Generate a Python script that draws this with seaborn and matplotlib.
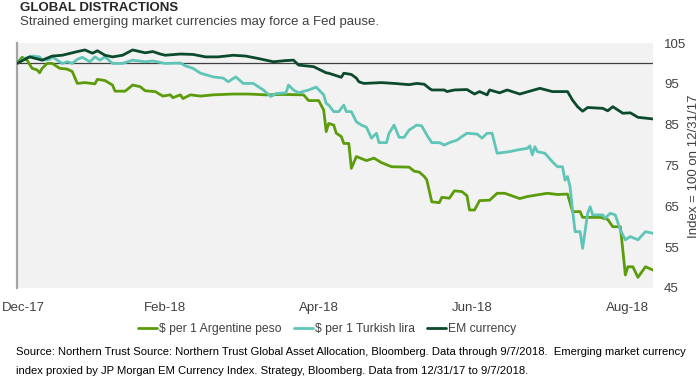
import matplotlib
matplotlib.use('Agg')
from matplotlib import pyplot as plt
import matplotlib.dates as mdates
import matplotlib.transforms as mtransforms
import numpy as np
import pandas as pd
import seaborn as sns

# days after 12/31/17, index = 100 on 12/31/17
peso_day = [0, 2, 4, 6, 8, 9, 10, 12, 14, 17, 20, 22, 24, 27, 31, 32, 35, 38, 39, 43,
            46, 49, 51, 55, 58, 61, 62, 65, 66, 69, 73, 78, 86, 92, 99, 106, 114, 116, 120, 122,
            123, 124, 126, 127, 129, 130, 132, 133, 135, 139, 142, 145, 149, 156, 158, 160, 162, 163, 165, 168,
            169, 172, 174, 177, 179, 180, 182, 184, 188, 191, 194, 200, 203, 211, 215, 219, 221, 224, 225, 232,
            235, 237, 240, 241, 242, 243, 245, 247, 250, 253]
peso_val = [100, 101.5, 100.8, 98.8, 98.4, 97.7, 98.8, 100, 100, 98.8, 98.6, 98, 95.1, 95.3, 95, 96.1, 95.8, 94.7, 93.2, 93.2,
            94.7, 94.3, 93.3, 93.1, 92, 92.3, 91.6, 92.3, 91.4, 92.3, 92, 92.3, 92.5, 92.5, 92.3, 92.4, 92.3, 90.9, 90.9, 88.6,
            83.3, 85.3, 84.9, 82.9, 82.1, 80.4, 80.4, 74.3, 77.2, 76.2, 76.8, 75.7, 74.7, 74.6, 73.6, 73.4, 72.3, 71.5, 66.1, 65.9,
            67.2, 67, 68.8, 68.6, 67.6, 64.1, 64.1, 66.4, 66.5, 68.2, 68.2, 66.9, 67.4, 68.2, 67.9, 68, 63.7, 63.7, 62.3, 62.3,
            61.8, 60, 60, 54.3, 48.2, 50.2, 50.2, 47.6, 50.2, 49.4]

lira_day = [0, 3, 6, 9, 10, 13, 14, 16, 18, 20, 22, 24, 26, 29, 31, 33, 35, 38, 42, 46,
            51, 54, 59, 65, 67, 70, 73, 78, 82, 84, 87, 90, 94, 98, 101, 103, 107, 108, 110, 112,
            116, 119, 122, 123, 124, 126, 128, 130, 131, 133, 135, 137, 139, 141, 143, 144, 147, 148, 150, 152,
            154, 156, 159, 161, 163, 165, 168, 170, 172, 175, 177, 179, 183, 185, 187, 189, 190, 191, 196, 199,
            203, 204, 205, 206, 207, 210, 213, 215, 217, 218, 219, 220, 221, 222, 224, 225, 227, 228, 229, 233,
            234, 236, 238, 240, 242, 244, 247, 250, 253]
lira_val = [100, 101.2, 101.8, 101.6, 100.8, 101, 101.6, 100.8, 100, 100.4, 100, 101, 101.5, 100.4, 101.6, 100.8, 101.6, 100, 100, 100.8,
            100.4, 100.6, 100, 100.1, 99.4, 98.8, 97.6, 96.7, 96.4, 95.5, 96.7, 95.1, 95.1, 93.5, 91.9, 92.6, 92.8, 94.7, 93.5, 92.8,
            93.5, 94.2, 92.3, 90.2, 89.8, 88.2, 88.2, 89.8, 88.2, 88.2, 85.7, 84.9, 84.4, 81.7, 82.9, 80.6, 80.6, 82.9, 84.9, 81.9,
            81.9, 83.7, 84.9, 84.7, 82.5, 80.6, 80.6, 80, 80.6, 81.2, 82.1, 82.9, 82.7, 81.7, 82.9, 82.9, 80.4, 78, 78.4, 78.8,
            79.2, 79.8, 77.6, 79.6, 78.4, 78, 75.9, 74.7, 74.7, 71.4, 72.3, 69.8, 64.1, 58.8, 58.8, 54.7, 63.3, 64.9, 62.9, 62.9,
            62.1, 63.3, 62.9, 59.2, 56.8, 57.6, 56.8, 58.8, 58.4]

em_day = [0, 5, 10, 14, 18, 24, 27, 30, 32, 35, 38, 42, 46, 51, 54, 57, 59, 65, 70, 75,
          80, 86, 91, 96, 102, 107, 110, 112, 118, 123, 124, 129, 130, 133, 135, 136, 138, 145, 150, 156,
          159, 162, 164, 165, 170, 171, 174, 179, 182, 184, 187, 188, 192, 195, 200, 204, 208, 213, 216, 219,
          221, 223, 225, 227, 233, 235, 237, 241, 244, 247, 253]
em_val = [100, 101.6, 100.8, 101.8, 102, 102.9, 103.3, 102.5, 103.1, 102, 101.6, 102, 103.3, 102.6, 102.9, 102.3, 102, 102.3, 102.2, 101.6,
          101.6, 102, 101.8, 101.2, 100.4, 100.7, 100.8, 99.6, 99.2, 97.7, 97.6, 96.6, 97.6, 97.3, 96.4, 95.5, 95.1, 95.3, 95.1, 94.8,
          95.1, 94.9, 93.9, 93.5, 93.5, 93.1, 93.5, 93.6, 92.5, 93.1, 92.3, 93.5, 92.8, 93.5, 92.5, 93.2, 93.9, 93.1, 93.1, 93.1,
          91, 89.4, 88.3, 89.2, 89, 88.4, 89.4, 87.8, 87.9, 86.8, 86.4]

series_names = ['\\$ per 1 Argentine peso', '\\$ per 1 Turkish lira', 'EM currency']
series_colors = ['#5c9c0b', '#5fc6b7', '#0b4a2d']
tick_dates = ['2017-12-31', '2018-02-28', '2018-04-30', '2018-06-30', '2018-08-31']
y_ticks = [45, 55, 65, 75, 85, 95, 105]

start = pd.Timestamp('2017-12-31')
frames = []
for name, days, vals in zip(series_names, [peso_day, lira_day, em_day], [peso_val, lira_val, em_val]):
    frames.append(pd.DataFrame({'date': start + pd.to_timedelta(days, unit='D'),
                                'value': vals, 'series': name}))
df = pd.concat(frames, ignore_index=True)

sns.set_style('white')
plt.rcParams['font.family'] = ['Liberation Sans', 'DejaVu Sans']

fig = plt.figure(figsize=(7, 3.8), dpi=100)
ax = fig.add_axes([17 / 700, 1 - 288 / 380, 636 / 700, 245 / 380])
ax.set_facecolor('#f2f2f2')

ax.axhline(100, color='#404040', lw=0.9, zorder=1)
sns.lineplot(data=df, x='date', y='value', hue='series', hue_order=series_names,
             palette=series_colors, linewidth=2, estimator=None, ax=ax, zorder=3)

ax.set_ylim(45, 105)
ax.set_xlim(start, start + pd.Timedelta(days=253))
ax.set_yticks(y_ticks)
ax.yaxis.tick_right()
ax.set_ylabel('')
ax.set_xlabel('')
ax.set_xticks(pd.to_datetime(tick_dates))
ax.xaxis.set_major_formatter(mdates.DateFormatter('%b-%y'))
ax.tick_params(axis='both', length=0, labelsize=9.5, labelcolor='#404040')
ax.tick_params(axis='y', pad=8)
ax.tick_params(axis='x', pad=10)
for side in ['top', 'right', 'bottom']:
    ax.spines[side].set_visible(False)
ax.spines['left'].set_color('#a6a6a6')
ax.spines['left'].set_linewidth(1.6)
ax.grid(False)

# first date label sits left-aligned near the figure edge, as in the source chart
fig.canvas.draw()
first = ax.get_xticklabels()[0]
first.set_horizontalalignment('left')
first.set_transform(mtransforms.offset_copy(first.get_transform(), fig=fig, x=-15, y=0, units='dots'))

fig.text(694 / 700, 1 - 166 / 380, 'Index = 100 on 12/31/17', rotation=90, fontsize=9.5,
         color='#404040', ha='center', va='center')

handles, labels = ax.get_legend_handles_labels()
ax.legend_.remove()
fig.legend(handles, labels, loc='center', bbox_to_anchor=(327 / 700, 1 - 329 / 380), ncol=3,
           frameon=False, handlelength=1.6, handletextpad=0.15, columnspacing=1.0,
           fontsize=8.7, labelcolor='#404040')

fig.text(20 / 700, 1 - 2 / 380, 'GLOBAL DISTRACTIONS', fontsize=9.5, fontweight='bold',
         color='#262626', va='top', ha='left')
fig.text(20 / 700, 1 - 16 / 380, 'Strained emerging market currencies may force a Fed pause.',
         fontsize=9.5, color='#404040', va='top', ha='left')

fig.text(16 / 700, 1 - 352 / 380,
         'Source: Northern Trust Source: Northern Trust Global Asset Allocation, Bloomberg. '
         'Data through 9/7/2018.  Emerging market currency',
         fontsize=8.1, color='black', va='center', ha='left')
fig.text(16 / 700, 1 - 371 / 380,
         'index proxied by JP Morgan EM Currency Index. Strategy, Bloomberg. Data from 12/31/17 to 9/7/2018.',
         fontsize=8.1, color='black', va='center', ha='left')

plt.savefig('out.png', dpi=100)
